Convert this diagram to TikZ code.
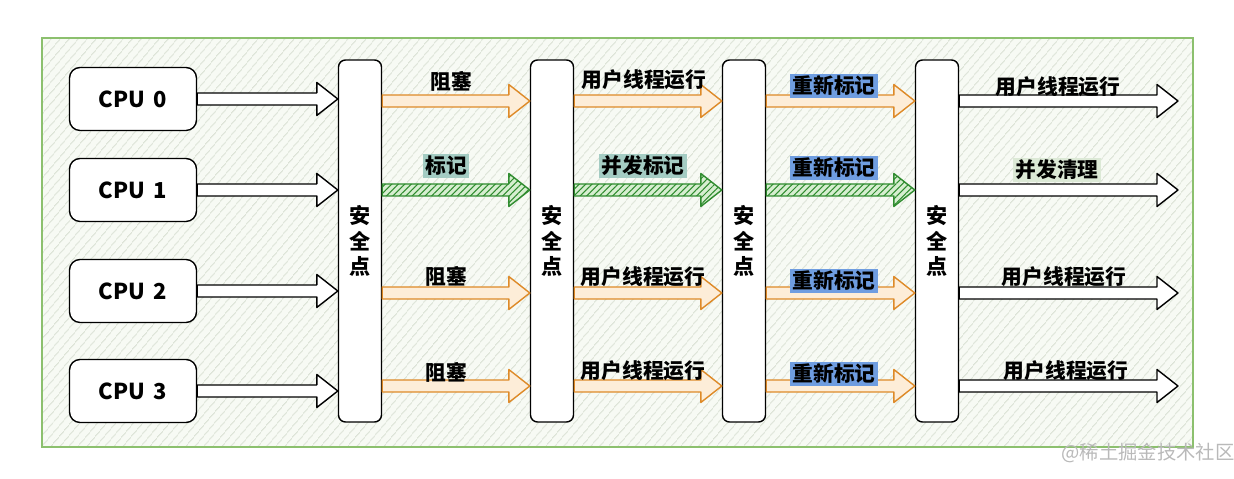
\documentclass[tikz,border=0pt]{standalone}
\usepackage{fontspec}
\setmainfont{Noto Sans CJK SC}
\usetikzlibrary{positioning, patterns.meta, calc}
\definecolor{framegreen}{RGB}{140,192,110}
\definecolor{paper}{RGB}{247,250,244}
\definecolor{hatchgray}{RGB}{205,214,198}
\definecolor{orangeline}{RGB}{222,138,40}
\definecolor{orangefill}{RGB}{253,237,216}
\definecolor{greenline}{RGB}{47,140,47}
\definecolor{greenfill}{RGB}{214,238,208}
\definecolor{tealbg}{RGB}{164,204,195}
\definecolor{bluebg}{RGB}{111,157,224}
\definecolor{palegreen}{RGB}{220,233,214}
\tikzset{
  cpubox/.style    = {draw, thick, rounded corners=6pt, fill=white,
                      minimum width=25.4mm, minimum height=12.6mm,
                      font=\fontsize{12.5}{15}\selectfont\bfseries},
  safebar/.style   = {draw, thick, rounded corners=4pt, fill=white,
                      minimum width=8.6mm, minimum height=72.4mm, align=center,
                      font=\fontsize{12}{14.3}\selectfont\bfseries},
  lbl/.style       = {font=\fontsize{11.8}{14}\selectfont\bfseries, inner sep=1.2pt},
  blackarr/.style  = {draw=black, thick, fill=white},
  orangearr/.style = {draw=orangeline, thick, fill=orangefill},
  greenarr/.style  = {draw=greenline, thick, preaction={fill=greenfill},
                      pattern={Lines[angle=45, distance=2.6pt, line width=0.6pt]},
                      pattern color=greenline},
}
% hollow block arrow between two points, at the height of the first
\newcommand\fatarrow[3]{%
  \draw[#1, line join=round] let \p1=(#2), \p2=(#3) in
    (\x1,\y1+1.2mm) -- (\x2-4.2mm,\y1+1.2mm) -- (\x2-4.2mm,\y1+3.3mm) -- (\x2,\y1)
    -- (\x2-4.2mm,\y1-3.3mm) -- (\x2-4.2mm,\y1-1.2mm) -- (\x1,\y1-1.2mm) -- cycle;}

\begin{document}
\begin{tikzpicture}[x=0.2mm, y=-0.2mm]
  \useasboundingbox (0,0) rectangle (1234,479);
  % hatched frame
  \draw[framegreen, thick, preaction={fill=paper},
        pattern={Lines[angle=50, distance=4pt, line width=0.5pt]},
        pattern color=hatchgray] (42,38) rectangle (1193,447);
  % cpus
  \foreach \i/\y in {0/99, 1/190, 2/291, 3/391} {
    \node[cpubox] (cpu\i) at (133,\y) {CPU\hspace{0.4em}\i};
  }
  % safepoints
  \foreach \j/\x in {1/360, 2/552, 3/744, 4/937} {
    \node[safebar] (bar\j) at (\x,241) {安\\全\\点};
  }
  % row heights and free ends
  \foreach \k/\y in {1/101, 2/190, 3/293, 4/386} {
    \coordinate (row\k) at (0,\y);
    \coordinate (tip\k) at (1178,\y);
  }
  % cpu -> first safepoint
  \foreach \i in {0,...,3} {
    \fatarrow{blackarr}{cpu\i.east}{bar1.west |- cpu\i};
  }
  % between safepoints
  \foreach \k/\sa/\sb/\sc in {1/orangearr/orangearr/orangearr,
                              2/greenarr/greenarr/greenarr,
                              3/orangearr/orangearr/orangearr,
                              4/orangearr/orangearr/orangearr} {
    \fatarrow{\sa}{bar1.east |- row\k}{bar2.west |- row\k};
    \fatarrow{\sb}{bar2.east |- row\k}{bar3.west |- row\k};
    \fatarrow{\sc}{bar3.east |- row\k}{bar4.west |- row\k};
    \fatarrow{blackarr}{bar4.east |- row\k}{tip\k};
  }
  % labels
  \foreach \x/\y/\txt/\bg in {451/81/阻塞/none, 446/166/标记/tealbg,
                              446/276/阻塞/none, 446/372/阻塞/none,
                              644/80/用户线程运行/none, 643/166/并发标记/tealbg,
                              643/277/用户线程运行/none, 643/371/用户线程运行/none,
                              834/86/重新标记/bluebg, 834/168/重新标记/bluebg,
                              834/281/重新标记/bluebg, 834/374/重新标记/bluebg,
                              1058/87/用户线程运行/none, 1057/170/并发清理/palegreen,
                              1064/277/用户线程运行/none, 1066/371/用户线程运行/none} {
    \node[lbl, fill=\bg] at (\x,\y) {\txt};
  }
  % watermark
  \node[gray!55, font=\fontsize{11}{13}\selectfont] (mark) at (1148,453) {@稀土掘金技术社区};
\end{tikzpicture}
\end{document}
